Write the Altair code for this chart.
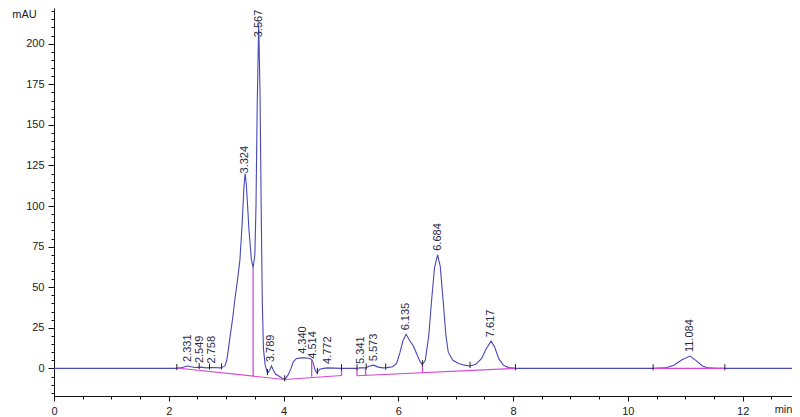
import altair as alt
import numpy as np
import pandas as pd

# ---- chromatogram trace (min, mAU) ----
trace_time = [0.0, 2.10, 2.20, 2.33, 2.45, 2.55, 2.65, 2.76, 2.90, 2.98,
              3.01, 3.04, 3.07, 3.11, 3.15, 3.20, 3.24, 3.28, 3.31, 3.33,
              3.35, 3.38, 3.40, 3.44, 3.47, 3.50, 3.52, 3.54, 3.567, 3.59,
              3.61, 3.63, 3.65, 3.68, 3.72, 3.76, 3.79, 3.82, 3.86, 3.95,
              4.02, 4.08, 4.13, 4.17, 4.22, 4.30, 4.36, 4.44, 4.49, 4.51,
              4.55, 4.58, 4.63, 4.70, 4.77, 5.00, 5.27, 5.34, 5.43, 5.50,
              5.57, 5.65, 5.73, 5.80, 5.90, 5.97, 6.03, 6.08, 6.135, 6.20,
              6.26, 6.32, 6.38, 6.42, 6.47, 6.53, 6.58, 6.63, 6.684, 6.73,
              6.78, 6.83, 6.87, 6.95, 7.05, 7.15, 7.25, 7.35, 7.45, 7.53,
              7.617, 7.68, 7.75, 7.83, 7.92, 8.05, 10.45, 10.65, 10.80, 10.95,
              11.084, 11.20, 11.30, 11.40, 11.55, 12.86]
trace_mau = [0.0, 0.0, 0.3, 1.5, 0.6, 0.8, 0.3, 0.6, 0.3, 1.5,
             5.0, 12.0, 20.0, 30.0, 42.0, 55.0, 67.0, 90.0, 112.0, 120.0,
             114.0, 96.0, 84.0, 67.0, 62.0, 70.0, 100.0, 160.0, 212.0, 170.0,
             100.0, 40.0, 12.0, 2.0, -3.0, -1.0, 1.5, -1.0, -3.5, -5.5,
             -6.8, -4.0, 0.0, 4.0, 6.0, 6.5, 6.5, 6.3, 5.5, 4.0,
             -1.0, -2.7, -0.5, 0.0, 0.3, 0.0, 0.0, 0.3, 0.3, 1.5,
             2.0, 0.8, 0.3, 0.5, 1.0, 3.0, 10.0, 17.0, 21.0, 17.0,
             14.0, 9.0, 4.0, 2.5, 5.0, 20.0, 42.0, 62.0, 70.0, 63.0,
             42.0, 20.0, 10.0, 5.0, 3.0, 2.0, 1.5, 2.5, 6.0, 12.0,
             16.8, 13.0, 6.0, 2.0, 0.5, 0.0, 0.0, 0.3, 2.0, 5.5,
             7.6, 4.5, 1.5, 0.3, 0.0, 0.0]

# ---- peak retention-time labels ----
peak_labels = ["2.331", "2.549", "2.758", "3.324", "3.567", "3.789", "4.340",
               "4.514", "4.772", "5.341", "5.573", "6.135", "6.684", "7.617",
               "11.084"]

# ---- integration baselines (segment id, min, mAU) ----
base_seg = [1, 1, 2, 2, 3, 3, 4, 4]
base_time = [2.14, 4.02, 4.02, 5.01, 5.28, 8.04, 10.44, 11.69]
base_mau = [0.2, -6.8, -6.8, -4.4, -4.5, 0.0, 0.0, 0.0]

# ---- drop lines (min, baseline mAU) ----
drop_time = [3.47, 4.49, 5.01, 5.28, 5.43, 6.42]
drop_base = [-4.8, -5.2, -4.4, -4.5, -4.2, -2.6]

# ---- integration event ticks (min) ----
event_time = [2.14, 2.53, 2.71, 2.92, 3.72, 4.02, 4.59, 5.01, 5.28, 5.44,
              5.78, 6.42, 7.25, 8.04, 10.44, 11.69]

# ---- axis tick values ----
x_ticks = [i * 0.5 for i in range(0, 26)]
y_ticks = list(range(-15, 221, 5))

FONT = "Liberation Sans"
TRACE = "#4848b8"
MAGENTA = "#d846d8"

trace_df = pd.DataFrame({"t": trace_time, "v": trace_mau})
base_df = pd.DataFrame({"seg": base_seg, "t": base_time, "v": base_mau})
drop_df = pd.DataFrame({"t": drop_time, "v0": drop_base,
                        "v1": np.interp(drop_time, trace_time, trace_mau)})
ev_v = np.interp(event_time, trace_time, trace_mau)
ev_df = pd.DataFrame({"t": event_time, "v0": ev_v - 1.2, "v1": ev_v + 2.6})
pk_t = [float(s) for s in peak_labels]
pk_v = np.minimum(np.interp(pk_t, trace_time, trace_mau), 201.5)
pk_df = pd.DataFrame({"t": pk_t, "v": pk_v, "label": peak_labels})

xscale = alt.Scale(domain=[0, 12.86], nice=False, zero=False)
yscale = alt.Scale(domain=[-17, 222], nice=False, zero=False)

xaxis = alt.Axis(
    values=x_ticks, tickCount=200,
    labelExpr="datum.value % 2 === 0 ? datum.label : ''",
    format=".0f",
    tickSize={"condition": {"test": "datum.value % 2 === 0", "value": 5}, "value": 3},
    grid=False, labelFlush=False, labelOverlap=False,
    domainColor="#111", tickColor="#111", labelColor="#222",
    labelFont=FONT, labelFontSize=11, labelPadding=4,
    title="min", titleFont=FONT, titleFontSize=11, titleFontWeight="normal",
    titleColor="#222", titleX=729, titleY=13, titleAlign="center",
    titleBaseline="middle", titleAnchor="end",
)
yaxis = alt.Axis(
    values=y_ticks, tickCount=200,
    labelExpr="datum.value % 25 === 0 ? datum.label : ''",
    format=".0f",
    tickSize={"condition": {"test": "datum.value % 25 === 0", "value": 6}, "value": 3},
    grid=False, labelFlush=False, labelOverlap=False,
    domainColor="#111", tickColor="#111", labelColor="#222",
    labelFont=FONT, labelFontSize=11, labelPadding=4,
    title="mAU", titleFont=FONT, titleFontSize=11, titleFontWeight="normal",
    titleColor="#222", titleAngle=0, titleX=-30, titleY=0, titleAlign="center",
    titleBaseline="top",
)

trace = alt.Chart(trace_df).mark_line(color=TRACE, strokeWidth=1.1).encode(
    x=alt.X("t:Q", scale=xscale, axis=xaxis),
    y=alt.Y("v:Q", scale=yscale, axis=yaxis),
)

baseline = alt.Chart(base_df).mark_line(color=MAGENTA, strokeWidth=1.1).encode(
    x="t:Q", y="v:Q", detail="seg:N"
)

drops = alt.Chart(drop_df).mark_rule(color=MAGENTA, strokeWidth=1.3).encode(
    x="t:Q", y="v0:Q", y2="v1:Q"
)

events = alt.Chart(ev_df).mark_rule(color="#222", strokeWidth=1).encode(
    x="t:Q", y="v0:Q", y2="v1:Q"
)

labels = alt.Chart(pk_df).mark_text(
    angle=270, align="left", baseline="middle", dx=4,
    font=FONT, fontSize=11, color="#2a2a48"
).encode(x="t:Q", y="v:Q", text="label:N")

chart = alt.layer(trace, baseline, drops, events, labels).properties(
    width=738, height=388,
    autosize=alt.AutoSizeParams(type="none"),
    padding={"left": 46, "top": 0, "right": 0, "bottom": 21},
    background="white",
).configure_view(stroke=None)

chart.save("out.html", embed_options={"renderer": "svg", "actions": False})
